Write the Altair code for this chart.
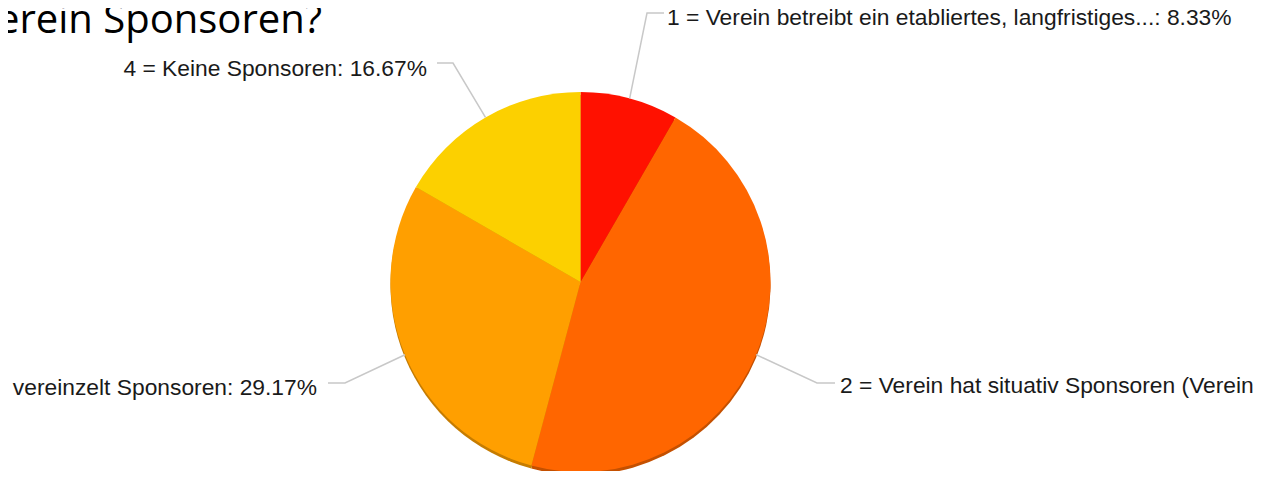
import math
import altair as alt
import pandas as pd

# ---- data ----
CATEGORIES = ["1", "2", "3", "4"]
LABELS = [
    "1 = Verein betreibt ein etabliertes, langfristiges...: 8.33%",
    "2 = Verein hat situativ Sponsoren (Verein ...): 45.83%",
    "3 = Verein hat vereinzelt Sponsoren: 29.17%",
    "4 = Keine Sponsoren: 16.67%",
]
VALUES = [8.33, 45.83, 29.17, 16.67]
TITLE = "Verein Sponsoren?"

# ---- style / layout ----
COLORS = ["#FF1100", "#FF6600", "#FF9F00", "#FCD000"]
SHADOW = ["#C00D00", "#C45000", "#C67C00", "#C4A000"]
W, H = 1252, 463
CX, CY, R = 572.5, 274, 190
# label layout (chart pixels): elbow point, end point, text anchor, alignment
ELBOW = {"1": (639, 5), "2": (809, 375), "3": (337, 375), "4": (445, 55)}
END = {"1": (656, 5), "2": (827, 375), "3": (320, 375), "4": (429, 55)}
TEXT_POS = {"1": (659, 17), "2": (832, 385), "3": (309, 387), "4": (419, 68)}
ALIGN = {"1": "left", "2": "left", "3": "right", "4": "right"}

df = pd.DataFrame({"cat": CATEGORIES, "label": LABELS, "value": VALUES,
                   "order": range(len(CATEGORIES))})
df["scat"] = df["cat"]

# leader-line start points derived from the slice values
total = sum(VALUES)
rows = []
cum = 0.0
for c, v in zip(CATEGORIES, VALUES):
    mid = (cum + v / 2) / total * 2 * math.pi
    cum += v
    ex, ey = CX + R * math.sin(mid), CY - R * math.cos(mid)
    rows.append({"cat": c, "step": 0, "px": ex, "py": ey})
    rows.append({"cat": c, "step": 1, "px": ELBOW[c][0], "py": ELBOW[c][1]})
    rows.append({"cat": c, "step": 2, "px": END[c][0], "py": END[c][1]})
lines_df = pd.DataFrame(rows)

text_df = df.copy()
text_df["tx"] = [TEXT_POS[c][0] for c in CATEGORIES]
text_df["ty"] = [TEXT_POS[c][1] for c in CATEGORIES]
text_df["align"] = [ALIGN[c] for c in CATEGORIES]

color_scale = alt.Scale(domain=CATEGORIES, range=COLORS)
shadow_scale = alt.Scale(domain=CATEGORIES, range=SHADOW)

shadow = alt.Chart(df).mark_arc(outerRadius=R, strokeWidth=0).encode(
    theta=alt.Theta("value:Q", stack=True),
    order=alt.Order("order:Q"),
    color=alt.Color("scat:N", scale=shadow_scale, legend=None),
    x=alt.value(CX), y=alt.value(CY + 3),
)

pie = alt.Chart(df).mark_arc(outerRadius=R, strokeWidth=0).encode(
    theta=alt.Theta("value:Q", stack=True),
    order=alt.Order("order:Q"),
    color=alt.Color("cat:N", scale=color_scale, legend=None),
    x=alt.value(CX), y=alt.value(CY),
)

leaders = alt.Chart(lines_df).mark_line(color="#c8c8c8", strokeWidth=1.5).encode(
    x=alt.X("px:Q", scale=None, axis=None),
    y=alt.Y("py:Q", scale=None, axis=None),
    detail="cat:N",
    order="step:Q",
)

def text_layer(al):
    return alt.Chart(text_df).transform_filter(
        alt.datum.align == al
    ).mark_text(align=al, baseline="alphabetic", font="Liberation Sans",
                fontSize=22.8, color="#1a1a1a").encode(
        x=alt.X("tx:Q", scale=None, axis=None),
        y=alt.Y("ty:Q", scale=None, axis=None),
        text="label:N",
    )

title = alt.Chart(pd.DataFrame({"t": [TITLE]})).mark_text(
    align="right", baseline="alphabetic", font="Open Sans", fontSize=40, color="#000000"
).encode(text="t:N", x=alt.value(314), y=alt.value(25))

chart = alt.layer(shadow, pie, leaders, text_layer("left"), text_layer("right"), title).resolve_scale(
    color="independent", theta="shared"
).properties(
    width=W, height=H, autosize=alt.AutoSizeParams(type="none"), padding=0
).configure_view(stroke=None)

chart.save("out.html", embed_options={"renderer": "svg", "actions": False})
